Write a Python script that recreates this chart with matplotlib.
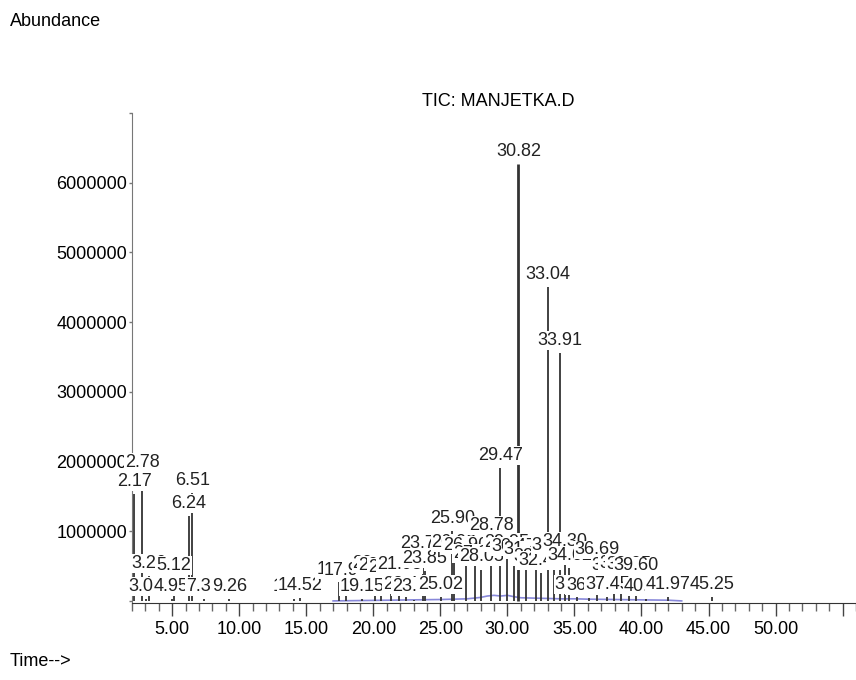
import matplotlib
matplotlib.use('Agg')
import matplotlib.pyplot as plt
from matplotlib.ticker import MultipleLocator, FuncFormatter

plt.rcParams['font.family'] = ['Liberation Sans', 'DejaVu Sans']

# Peak retention times (min) and apex abundance (millions of counts)
peak_times = [2.17, 2.78, 3.05, 3.26, 4.95, 5.12, 6.24, 6.51, 7.35, 9.26,
              14.11, 14.52, 17.41, 17.95, 19.15, 20.12, 20.56, 21.30, 21.95, 22.40,
              23.05, 23.70, 23.85, 25.02, 25.90, 26.02, 26.90, 27.62, 28.05, 28.78,
              29.47, 29.95, 30.47, 30.82, 31.40, 32.13, 32.47, 33.04, 33.50, 33.91,
              34.30, 34.62, 35.20, 36.05, 36.69, 37.45, 37.95, 38.50, 39.05, 39.60,
              40.35, 41.97, 45.25]
peak_heights = [1.53, 1.80, 0.03, 0.36, 0.03, 0.33, 1.22, 1.55, 0.03, 0.03,
                0.03, 0.04, 0.27, 0.26, 0.03, 0.36, 0.33, 0.30, 0.34, 0.05,
                0.02, 0.64, 0.43, 0.05, 1.00, 0.65, 0.62, 0.50, 0.45, 0.90,
                1.91, 0.66, 0.60, 6.27, 0.55, 0.45, 0.40, 4.50, 0.62, 3.56,
                0.67, 0.47, 0.05, 0.04, 0.55, 0.05, 0.33, 0.35, 0.34, 0.32,
                0.03, 0.05, 0.05]

# Low baseline hump of the TIC (millions)
base_times = [17, 19, 21, 23, 25, 26, 27, 28, 28.5, 29, 29.5, 30, 30.5, 31,
              32, 33, 34, 35, 36, 38, 40, 42, 43]
base_vals = [0.0, 0.005, 0.01, 0.015, 0.02, 0.025, 0.03, 0.05, 0.07, 0.08, 0.07,
             0.08, 0.06, 0.045, 0.04, 0.035, 0.03, 0.03, 0.025, 0.02, 0.015, 0.01, 0.0]

FS = 13

fig = plt.figure(figsize=(8.56, 6.80), dpi=100)
ax = fig.add_axes([132 / 856, 1 - 603 / 680, 1 - 132 / 856, 490 / 680])
ax.set_xlim(2.0, 56.0)
ax.set_ylim(-0.03e6, 7.0e6)

ax.plot(base_times, [v * 1e6 for v in base_vals], color='#6a6ad0', lw=1.2, alpha=0.8, zorder=1)

for t, h in zip(peak_times, peak_heights):
    lw = 2.0 if h > 5 else 1.3
    ax.vlines(t, 0, h * 1e6, color='#333333', lw=lw, zorder=2)

for t, h in zip(peak_times, peak_heights):
    ax.annotate('%.2f' % t, xy=(t, h * 1e6), xytext=(0, 3), textcoords='offset points',
                ha='center', va='bottom', fontsize=FS, color='#222222',
                bbox=dict(boxstyle='square,pad=0.05', fc='white', ec='none'),
                annotation_clip=False, zorder=4)

for s in ['top', 'right']:
    ax.spines[s].set_visible(False)
ax.spines['left'].set_color('#777777')
ax.spines['bottom'].set_color('#333333')

ax.xaxis.set_major_locator(MultipleLocator(5))
ax.xaxis.set_minor_locator(MultipleLocator(1))
ax.xaxis.set_major_formatter(FuncFormatter(lambda v, p: '%.2f' % v if v < 52 else ''))
ax.yaxis.set_major_locator(MultipleLocator(1e6))
ax.yaxis.set_major_formatter(FuncFormatter(lambda v, p: '%d' % v if 0 < v < 6.5e6 else ''))
ax.tick_params(axis='x', which='major', length=9, width=1, color='#444444', pad=4, labelsize=FS)
ax.tick_params(axis='x', which='minor', length=5.5, width=1, color='#666666')
ax.tick_params(axis='y', which='major', length=2.5, width=1, color='#777777', pad=1, labelsize=FS)

fig.text(10 / 856, 1 - 22 / 680, 'Abundance', fontsize=FS, va='center', ha='left')
fig.text(10 / 856, 1 - 662 / 680, 'Time-->', fontsize=FS, va='center', ha='left')
fig.text(498 / 856, 1 - 102 / 680, 'TIC: MANJETKA.D', fontsize=FS, va='center', ha='center')

fig.savefig('out.png', dpi=100)
